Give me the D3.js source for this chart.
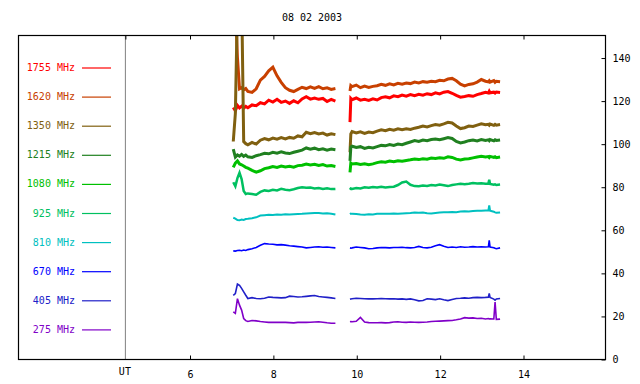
<!DOCTYPE html>
<html>
<head>
<meta charset="utf-8">
<script src="https://cdn.jsdelivr.net/npm/d3@7"></script>
<style>
  body { margin: 0; background: #fff; }
  svg { display: block; font-family: "DejaVu Sans Mono", monospace; font-size: 10px; }
</style>
</head>
<body>
<script>
const TITLE = '08 02 2003';
const X_TICKS = [6, 8, 10, 12, 14];
const Y_TICKS = [0, 20, 40, 60, 80, 100, 120, 140];
const UT_HOUR = 4.45;

const FREQS = ['1755 MHz', '1620 MHz', '1350 MHz', '1215 MHz', '1080 MHz',
               '925 MHz', '810 MHz', '670 MHz', '405 MHz', '275 MHz'];
const COLORS = ['#ff0000', '#c84000', '#806010', '#208020', '#00c000',
                '#00c060', '#00c0c0', '#0000ff', '#2020c8', '#8000c8'];
const WIDTHS = [3, 3, 3, 3, 3, 2.5, 2, 1.6, 1.6, 1.6];

// UT hours; the 9.7 entry is the data gap
const HOURS = [
  7.05, 7.1, 7.15, 7.2, 7.25, 7.3, 7.35, 7.4,
  7.5, 7.6, 7.7, 7.8, 7.9, 8.0, 8.1, 8.2, 8.3, 8.4, 8.5, 8.6, 8.7, 8.8, 8.9, 9.0, 9.1, 9.2, 9.3, 9.4, 9.5,
  9.7,
  9.85, 9.87, 9.9,
  10.0, 10.1, 10.2, 10.3, 10.4, 10.5, 10.6, 10.7, 10.8, 10.9,
  11.0, 11.1, 11.2, 11.3, 11.4, 11.5, 11.6, 11.7, 11.8, 11.9,
  12.0, 12.1, 12.2, 12.3, 12.4, 12.5, 12.6, 12.7, 12.8, 12.9,
  13.0, 13.1,
  13.17, 13.19, 13.21, 13.3, 13.33, 13.36, 13.45
];

const S1755 = [
  116.8, 115.3, 117.8, 116.6, 117.4, 116.5, 117.3, 116.7,
  118.0, 117.6, 119.0, 118.5, 120.2, 119.3, 120.6, 119.2, 119.8, 118.7, 119.9, 119.0, 120.8, 121.8, 120.7, 121.2, 120.6, 121.0, 119.6, 120.6, 119.8,
  null,
  110.0, 121.0, 120.4,
  121.2, 120.2, 120.6, 120.1, 120.8, 120.3, 121.4, 121.8, 121.3, 122.2,
  121.8, 122.6, 122.1, 122.8, 122.3, 122.9, 122.5, 123.2, 122.8, 123.6,
  123.1, 123.9, 124.2, 123.4, 122.4, 121.6, 121.9, 122.3, 122.0, 122.8,
  123.3, 123.9,
  123.5, 124.3, 123.6, 123.9, 123.5, 124.0, 123.8
];
const S1620 = [
  165, 165, 140, 125.5, 126.0, 125.0, 125.6, 124.3,
  123.8, 125.5, 129.5, 131.2, 133.8, 135.5, 131.5, 128.5, 126.0, 124.8, 124.2, 125.2, 126.2, 125.6, 126.4, 125.7, 126.5, 125.5, 125.9, 125.2, 125.6,
  null,
  124.5, 127.0, 126.5,
  127.2, 126.0, 126.7, 126.1, 126.6, 126.9, 127.6, 127.1, 127.8, 127.3,
  128.0, 127.6, 128.2, 127.9, 128.6, 128.2, 128.8, 128.5, 129.0, 128.8,
  129.4, 129.2, 130.0, 130.3, 129.2, 127.6, 126.8, 127.5, 127.8, 128.6,
  129.8, 129.0,
  128.7, 129.2, 128.6, 129.3, 128.5, 129.0, 128.8
];
const S1350 = [
  101.0, 114.0, 165, 175, 170, 101.0, 100.0, 99.5,
  100.6, 99.8, 101.6, 102.4, 101.8, 102.6, 102.1, 102.8, 102.2, 102.9, 102.5, 103.6, 103.2, 105.3, 104.6, 105.2, 104.5, 104.9, 104.0, 104.6, 104.2,
  null,
  96.0, 104.5, 105.6,
  105.0, 105.5, 104.8, 105.4, 105.1, 105.8, 106.4, 106.0, 106.7, 106.3,
  106.9, 106.5, 106.9, 106.6, 107.2, 107.6, 108.2, 107.8, 108.4, 108.9,
  108.6, 109.2, 109.9, 109.6, 108.2, 107.0, 107.4, 108.2, 108.0, 108.6,
  109.2, 108.8,
  109.0, 108.6, 109.1, 108.5, 109.0, 108.6, 108.9
];
const S1215 = [
  97.5, 93.8, 94.8, 94.2, 95.0, 94.1, 94.7, 93.9,
  93.6, 94.4, 94.9, 95.5, 95.3, 96.0, 95.6, 96.2, 95.7, 95.4, 96.0, 96.5, 97.0, 98.0, 97.4, 97.9, 97.2, 97.6, 97.0, 97.5, 97.2,
  null,
  92.0, 98.4, 98.8,
  98.2, 98.6, 97.8, 98.3, 98.0, 98.6, 99.2, 99.0, 99.6, 99.2,
  99.8, 99.5, 100.2, 100.8, 101.4, 101.0, 101.7, 101.4, 101.9, 102.2,
  101.8, 102.3, 102.8, 102.4, 101.0, 100.3, 100.8, 101.4, 101.7, 101.3,
  101.9, 101.5,
  101.8, 101.4, 101.9, 101.3, 101.8, 101.5, 101.7
];
const S1080 = [
  89.0, 91.0, 92.0, 90.6, 90.2, 89.6, 89.0, 88.6,
  87.6, 86.8, 87.4, 88.4, 88.8, 89.4, 89.0, 89.6, 89.2, 89.5, 89.1, 89.8, 90.0, 90.5, 90.1, 90.4, 89.9, 90.3, 89.6, 89.8, 89.4,
  null,
  86.7, 91.0, 90.6,
  90.8, 90.3, 90.7, 90.2, 90.6, 91.2, 91.6, 91.4, 91.9, 91.6,
  92.1, 91.8, 92.2, 92.5, 92.9, 92.6, 93.0, 92.8, 93.3, 93.1,
  93.4, 93.2, 93.9, 93.6, 92.8, 92.4, 92.9, 93.0, 93.4, 93.8,
  94.1, 93.8,
  94.0, 93.6, 94.1, 93.6, 93.9, 93.5, 93.8
];
const S925 = [
  82.1, 80.2, 84.0, 86.5, 83.6, 78.0, 76.6, 76.9,
  76.6, 76.3, 77.6, 78.3, 78.0, 78.6, 78.3, 79.0, 78.6, 78.4, 78.8, 79.4, 79.8, 79.5, 79.6, 79.2, 79.4, 79.0, 79.3, 78.9, 79.0,
  null,
  78.6, 79.2, 79.0,
  79.4, 79.2, 79.7, 79.5, 79.9, 79.6, 80.0, 79.7, 79.9, 80.0,
  80.8, 82.0, 82.4, 80.9, 80.3, 80.2, 80.6, 80.4, 80.8, 80.6,
  81.0, 80.7, 80.3, 80.8, 81.1, 81.4, 81.2, 81.4, 81.7, 81.5,
  81.6, 81.4,
  81.5, 83.2, 81.3, 80.9, 81.1, 80.8, 81.0
];
const S810 = [
  65.6, 65.2, 64.5, 64.4, 64.8, 64.6, 65.0, 65.1,
  65.4, 65.8, 66.6, 66.8, 67.0, 66.9, 67.1, 67.0, 67.2, 67.1, 67.2, 67.3, 67.4, 67.6, 67.7, 67.8, 67.8, 67.6, 67.7, 67.5, 67.1,
  null,
  67.2, 67.5, 67.4,
  67.3, 67.1, 67.0, 67.2, 67.1, 67.4, 67.5, 67.4, 67.5, 67.6,
  67.5, 67.6, 67.7, 67.8, 68.0, 67.9, 68.0, 67.7, 67.6, 67.8,
  68.0, 68.2, 68.1, 68.3, 68.2, 68.5, 68.6, 68.5, 68.7, 68.9,
  68.8, 69.0,
  69.0, 71.3, 68.9, 68.4, 68.1, 67.9, 68.0
];
const S670 = [
  50.2, 50.1, 50.4, 50.5, 50.3, 50.6, 50.4, 50.8,
  51.2, 51.8, 52.8, 53.6, 53.4, 53.3, 53.0, 53.1, 52.9, 52.6, 52.4, 52.2, 52.0, 51.6, 51.8, 52.0, 52.1, 51.9, 52.0, 51.8, 51.6,
  null,
  51.6, 51.5, 51.6,
  52.0, 51.8, 51.6, 51.2, 51.3, 51.6, 51.8, 51.7, 51.6, 51.8,
  51.8, 51.9, 51.7, 51.6, 51.8, 52.3, 51.8, 51.6, 51.9, 52.6,
  53.1, 52.4, 51.8, 52.0, 51.8, 52.1, 51.9, 52.0, 52.2, 52.0,
  52.1, 52.0,
  52.1, 55.1, 52.0, 51.7, 51.4, 51.2, 51.6
];
const S405 = [
  29.6, 30.4, 34.8, 34.2, 32.8, 31.2, 29.6, 28.1,
  28.5, 28.1, 28.0, 28.2, 28.8, 28.6, 28.5, 28.4, 28.5, 29.2, 29.0, 28.8, 28.9, 29.1, 29.3, 29.5, 29.0, 28.8, 28.6, 28.4, 28.1,
  null,
  27.8, 27.9, 28.0,
  28.2, 28.1, 28.0, 27.9, 27.9, 28.0, 28.1, 28.0, 27.9, 28.0,
  27.8, 27.9, 27.7, 27.9, 27.5, 27.0, 27.2, 28.0, 27.8, 27.6,
  28.0, 27.5, 27.1, 27.6, 28.1, 28.2, 28.4, 28.2, 28.5, 28.6,
  28.5, 28.6,
  28.7, 30.4, 28.6, 27.8, 27.3, 27.9, 28.1
];
const S275 = [
  21.9, 21.2, 28.0, 25.0, 22.7, 18.8, 17.8, 17.4,
  17.9, 17.7, 17.4, 17.2, 17.0, 17.1, 17.0, 17.1, 17.0, 16.9, 16.8, 17.0, 17.1, 17.0, 17.1, 17.2, 17.3, 17.1, 16.8, 16.6, 16.6,
  null,
  17.3, 17.4, 17.3,
  17.5, 19.3, 17.2, 16.9, 16.8, 16.8, 16.9, 16.8, 16.9, 17.2,
  17.3, 17.1, 17.0, 17.2, 17.1, 17.0, 17.1, 17.2, 17.4, 17.5,
  17.6, 17.7, 17.8, 17.9, 18.2, 18.6, 19.2, 19.0, 19.1, 18.8,
  18.9, 18.6,
  18.8, 18.6, 18.7, 18.6, 26.5, 18.4, 18.5
];

const SERIES = [S1755, S1620, S1350, S1215, S1080, S925, S810, S670, S405, S275];

const W = 640;
const H = 384;
const frame = { left: 18, right: 605, top: 35, bottom: 359 };

const svg = d3.select('body')
  .append('svg')
  .attr('width', W)
  .attr('height', H);

const xScale = d3.scaleLinear()
  .domain([6, 14])
  .range([189.5, 523]);

const yScale = d3.scaleLinear()
  .domain([0, 150])
  .range([frame.bottom, 36]);

// title
svg.append('text')
  .attr('x', 312)
  .attr('y', 21)
  .attr('text-anchor', 'middle')
  .text(TITLE);

// clip the traces to the plot box
svg.append('clipPath')
  .attr('id', 'plot-clip')
  .append('rect')
  .attr('x', frame.left)
  .attr('y', frame.top)
  .attr('width', frame.right - frame.left)
  .attr('height', frame.bottom - frame.top);

// UT divider
svg.append('line')
  .attr('x1', xScale(UT_HOUR) + 0.5)
  .attr('x2', xScale(UT_HOUR) + 0.5)
  .attr('y1', frame.top)
  .attr('y2', frame.bottom)
  .attr('stroke', '#808080')
  .attr('stroke-width', 1);

svg.append('text')
  .attr('x', xScale(UT_HOUR))
  .attr('y', 375)
  .attr('text-anchor', 'middle')
  .text('UT');

// traces
const line = d3.line()
  .defined((d) => d[1] != null)
  .x((d) => xScale(d[0]))
  .y((d) => yScale(d[1]));

svg.append('g')
  .attr('clip-path', 'url(#plot-clip)')
  .selectAll('path')
  .data(SERIES)
  .enter()
  .append('path')
  .attr('d', (s) => line(HOURS.map((h, i) => [h, s[i]])))
  .attr('fill', 'none')
  .attr('stroke', (s, i) => COLORS[i])
  .attr('stroke-width', (s, i) => WIDTHS[i])
  .attr('stroke-linejoin', 'miter');

// legend
const legend = svg.append('g')
  .selectAll('g')
  .data(FREQS)
  .enter()
  .append('g')
  .attr('transform', (d, i) => 'translate(0, ' + (67.5 + i * 29.1) + ')');

legend.append('text')
  .attr('x', 75)
  .attr('dy', '0.35em')
  .attr('text-anchor', 'end')
  .attr('fill', (d, i) => COLORS[i])
  .text((d) => d);

legend.append('line')
  .attr('x1', 82)
  .attr('x2', 111)
  .attr('y1', 0.5)
  .attr('y2', 0.5)
  .attr('stroke', (d, i) => COLORS[i])
  .attr('stroke-width', 1.2);

// frame
svg.append('rect')
  .attr('x', frame.left + 0.5)
  .attr('y', frame.top + 0.5)
  .attr('width', frame.right - frame.left)
  .attr('height', frame.bottom - frame.top)
  .attr('fill', 'none')
  .attr('stroke', '#000')
  .attr('stroke-width', 1.2);

// axes (ticks point inward)
const xAxis = d3.axisBottom(xScale)
  .tickValues(X_TICKS)
  .tickSize(-4)
  .tickSizeOuter(0)
  .tickPadding(11);
svg.append('g')
  .attr('transform', 'translate(0.5, ' + (frame.bottom + 0.5) + ')')
  .call(xAxis)
  .call((g) => g.select('.domain').remove());

const xTop = d3.axisTop(xScale)
  .tickValues([UT_HOUR].concat(X_TICKS))
  .tickSize(-4)
  .tickFormat('');
svg.append('g')
  .attr('transform', 'translate(0.5, ' + (frame.top + 0.5) + ')')
  .call(xTop)
  .call((g) => g.select('.domain').remove());

const yAxis = d3.axisRight(yScale)
  .tickValues(Y_TICKS)
  .tickSize(-4)
  .tickSizeOuter(0)
  .tickPadding(7);
svg.append('g')
  .attr('transform', 'translate(' + (frame.right + 0.5) + ', 0.5)')
  .call(yAxis)
  .call((g) => g.select('.domain').remove());

svg.selectAll('.tick text')
  .attr('font-family', '"DejaVu Sans Mono", monospace')
  .attr('font-size', 10)
  .attr('fill', '#000');
</script>
</body>
</html>
